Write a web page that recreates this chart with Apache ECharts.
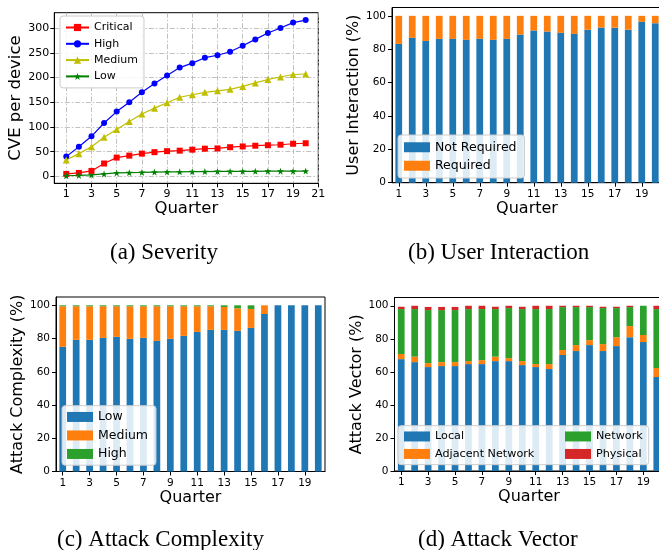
<!DOCTYPE html>
<html>
<head>
<meta charset="utf-8">
<script src="https://cdn.jsdelivr.net/npm/echarts@6/dist/echarts.min.js"></script>
<style>
  html, body { margin: 0; padding: 0; background: #fff; }
  #chart { width: 659px; height: 550px; }
</style>
</head>
<body>
<div id="chart"></div>
<script>
// ---- data ----
const quarters = [1,2,3,4,5,6,7,8,9,10,11,12,13,14,15,16,17,18,19,20];
const quarterTicks = [1,3,5,7,9,11,13,15,17,19,21];
const severityTicks = [0,50,100,150,200,250,300];
const percentTicks = [0,20,40,60,80,100];

// (a) CVEs per device by severity
const sevCritical = [5,7,11,26,38,42,46,49,51,52,54,56,56.5,59,60.5,62,63,64,66,67];
const sevHigh     = [40,60,81,108,131,150,170,188,204,220,229,240,245,252,264,277,290,300,311,316];
const sevMedium   = [33,46,60,79,95,111,126,138,149,160,165,170,173,176,182,189,196,201,206,207];
const sevLow      = [1.3,2,3,5,7,7.5,8,8.7,9,9.3,9.5,9.7,10,10,10.2,10.3,10.5,10.5,10.6,10.7];

// (b) user interaction share (%)
const uiNotRequired = [83.2,86.8,85.0,86.2,86.2,85.6,86.2,85.6,86.2,88.8,91.2,90.6,89.8,89.2,91.7,93.0,92.9,91.7,96.4,95.6];
const uiRequired = uiNotRequired.map(v => +(100 - v).toFixed(1));

// (c) attack complexity share (%)
const acLow    = [75.0,79.2,79.2,80.4,81.0,79.8,80.4,78.6,79.8,81.6,84.0,85.2,85.2,84.6,86.4,94.8,100,100,100,100];
const acMedium = [24.4,20.2,20.2,19.0,18.4,19.6,19.0,20.8,19.6,17.8,15.4,14.2,13.8,13.6,11.4,5.2,0,0,0,0];
const acHigh   = [0.6,0.6,0.6,0.6,0.6,0.6,0.6,0.6,0.6,0.6,0.6,0.6,1.0,1.8,2.2,0,0,0,0,0];

// (d) attack vector share (%)
const avLocal    = [67.7,65.9,62.9,63.5,63.5,64.7,64.7,66.5,66.5,64.1,62.9,61.7,70.2,72.6,76.2,72.6,75.6,81.0,78.0,56.9];
const avAdjacent = [3.1,3.3,2.4,2.4,2.4,1.8,2.4,2.7,1.8,2.4,1.8,3.0,3.0,3.6,3.0,4.2,5.4,6.7,4.3,5.4];
const avNetwork  = [27.2,28.8,32.1,31.5,31.5,31.5,30.9,28.8,30.3,31.5,33.3,33.3,26.0,23.0,20.0,21.8,17.6,11.5,17.7,35.7];
const avPhysical = [1.4,2.0,1.9,1.9,1.9,2.0,2.0,1.4,1.4,1.4,2.0,2.0,0.8,0.8,0.8,0.8,0.8,0.8,0,2.0];

// ---- styling helpers ----
const FONT = 'DejaVu Sans';
const C_BLUE = '#1f77b4', C_ORANGE = '#ff7f0e', C_GREEN = '#2ca02c', C_RED = '#d62728';
const STAR = 'path://M0,-10L2.35,-3.24L9.51,-3.09L3.8,1.24L5.88,8.09L0,4L-5.88,8.09L-3.8,1.24L-9.51,-3.09L-2.35,-3.24Z';
const catLabels = quarters.map(String);

function gridBox(left, top, width, height) {
  return { left, top, width, height, show: true, borderColor: '#000', borderWidth: 1,
           backgroundColor: 'transparent', containLabel: false, outerBoundsMode: 'none' };
}
const axisLine = { show: true, onZero: false, lineStyle: { color: '#000', width: 1 } };
const tick = { show: true, inside: false, length: 4, lineStyle: { color: '#000', width: 1 } };

function barXAxis(gridIndex, fs) {
  return {
    type: 'category', gridIndex, data: catLabels, boundaryGap: true,
    axisLine, axisTick: Object.assign({}, tick, { alignWithLabel: true, interval: 1 }),
    axisLabel: { interval: 1, color: '#000', fontFamily: FONT, fontSize: fs, margin: 6 },
    name: 'Quarter', nameLocation: 'middle', nameGap: 17,
    nameTextStyle: { color: '#000', fontFamily: FONT, fontSize: 16 },
    splitLine: { show: false }
  };
}
function barYAxis(gridIndex, title, fs) {
  return {
    type: 'value', gridIndex, min: 0, max: 105,
    axisLine, axisTick: Object.assign({}, tick, { customValues: percentTicks }),
    axisLabel: { customValues: percentTicks, color: '#000', fontFamily: FONT, fontSize: fs, margin: 6 },
    splitLine: { show: false },
    name: title, nameLocation: 'middle', nameGap: 27, nameRotate: 90,
    nameTextStyle: { color: '#000', fontFamily: FONT, fontSize: 16 }
  };
}
function barSeries(name, data, color, gx, stack) {
  return { type: 'bar', name, data, stack, xAxisIndex: gx, yAxisIndex: gx, barWidth: '50%',
           itemStyle: { color }, emphasis: { disabled: true }, animation: false };
}
function lineSeries(name, values, color, symbol, size) {
  return {
    type: 'line', name, xAxisIndex: 0, yAxisIndex: 0,
    data: quarters.map((q, i) => [q, values[i]]),
    symbol, symbolSize: size, showSymbol: true,
    lineStyle: { color, width: 1.2 }, itemStyle: { color, borderWidth: 0 },
    emphasis: { disabled: true }, animation: false
  };
}
const legendBox = {
  backgroundColor: 'rgba(255,255,255,0.85)', borderColor: '#cccccc', borderWidth: 1,
  borderRadius: 3, selectedMode: false
};
const stripTag = n => n.slice(2);

const option = {
  animation: false,
  grid: [
    gridBox(54.3, 12.7, 264, 170.6),
    gridBox(392, 7.5, 270, 175.2),
    gridBox(56, 297, 269, 174.5),
    gridBox(394.5, 297.5, 269, 173.5)
  ],
  xAxis: [
    {
      type: 'value', gridIndex: 0, min: 0.05, max: 21,
      axisLine, axisTick: Object.assign({}, tick, { customValues: quarterTicks }),
      axisLabel: { customValues: quarterTicks, color: '#000', fontFamily: FONT, fontSize: 11, margin: 5 },
      splitLine: { show: true, lineStyle: { color: '#b0b0b0', width: 0.8, type: [5, 2, 1.5, 2] } },
      name: 'Quarter', nameLocation: 'middle', nameGap: 16,
      nameTextStyle: { color: '#000', fontFamily: FONT, fontSize: 16.5 }
    },
    barXAxis(1, 10.5), barXAxis(2, 10.5), barXAxis(3, 10.5)
  ],
  yAxis: [
    {
      type: 'value', gridIndex: 0, min: -14, max: 331,
      axisLine, axisTick: Object.assign({}, tick, { customValues: severityTicks }),
      axisLabel: { customValues: severityTicks, color: '#000', fontFamily: FONT, fontSize: 11, margin: 5 },
      splitLine: { show: true, lineStyle: { color: '#b0b0b0', width: 0.8, type: [5, 2, 1.5, 2] } },
      name: 'CVE per device', nameLocation: 'middle', nameGap: 26, nameRotate: 90,
      nameTextStyle: { color: '#000', fontFamily: FONT, fontSize: 16.5 }
    },
    barYAxis(1, 'User Interaction (%)', 10.5),
    barYAxis(2, 'Attack Complexity (%)', 10.5),
    barYAxis(3, 'Attack Vector (%)', 10.5)
  ],
  legend: [
    Object.assign({}, legendBox, {
      data: ['a:Critical', 'a:High', 'a:Medium', 'a:Low'], formatter: stripTag,
      orient: 'vertical', left: 60, top: 16, itemWidth: 23, itemHeight: 9, itemGap: 3.3,
      padding: [5, 6, 5, 5],
      textStyle: { color: '#000', fontFamily: FONT, fontSize: 11, lineHeight: 13 }
    }),
    Object.assign({}, legendBox, {
      data: ['b:Not Required', 'b:Required'], formatter: stripTag, icon: 'rect',
      orient: 'vertical', left: 398, top: 135, itemWidth: 26, itemHeight: 10, itemGap: 4,
      padding: [5, 8, 5, 6],
      textStyle: { color: '#000', fontFamily: FONT, fontSize: 12.5, lineHeight: 14.5 }
    }),
    Object.assign({}, legendBox, {
      data: ['c:Low', 'c:Medium', 'c:High'], formatter: stripTag, icon: 'rect',
      orient: 'vertical', left: 62, top: 405.7, itemWidth: 26, itemHeight: 10, itemGap: 4,
      padding: [4, 8, 4, 5],
      textStyle: { color: '#000', fontFamily: FONT, fontSize: 12.5, lineHeight: 14.5 }
    }),
    Object.assign({}, legendBox, {
      data: [
        { name: 'd:Local', textStyle: { width: 126 } },
        { name: 'd:Network' },
        { name: 'd:Adjacent Network', textStyle: { width: 126 } },
        { name: 'd:Physical' }
      ],
      formatter: stripTag, icon: 'rect',
      orient: 'horizontal', left: 398, top: 425.7, width: 246, itemWidth: 26, itemHeight: 10, itemGap: 4,
      padding: [4, 6, 4, 6],
      textStyle: { color: '#000', fontFamily: FONT, fontSize: 11.2, lineHeight: 13.5 }
    })
  ],
  series: [
    lineSeries('a:Critical', sevCritical, '#ff0000', 'rect', 6),
    lineSeries('a:High', sevHigh, '#0000ff', 'circle', 6),
    lineSeries('a:Medium', sevMedium, '#bfbf00', 'triangle', 7),
    lineSeries('a:Low', sevLow, '#008000', STAR, 7),

    barSeries('b:Not Required', uiNotRequired, C_BLUE, 1, 'ui'),
    barSeries('b:Required', uiRequired, C_ORANGE, 1, 'ui'),

    barSeries('c:Low', acLow, C_BLUE, 2, 'ac'),
    barSeries('c:Medium', acMedium, C_ORANGE, 2, 'ac'),
    barSeries('c:High', acHigh, C_GREEN, 2, 'ac'),

    barSeries('d:Local', avLocal, C_BLUE, 3, 'av'),
    barSeries('d:Adjacent Network', avAdjacent, C_ORANGE, 3, 'av'),
    barSeries('d:Network', avNetwork, C_GREEN, 3, 'av'),
    barSeries('d:Physical', avPhysical, C_RED, 3, 'av')
  ],
  graphic: [
    { type: 'text', left: 110, top: 241, style: { text: '(a) Severity', font: '23px "Liberation Serif"', fill: '#000' } },
    { type: 'text', left: 408, top: 241, style: { text: '(b) User Interaction', font: '23px "Liberation Serif"', fill: '#000' } },
    { type: 'text', left: 57, top: 528, style: { text: '(c) Attack Complexity', font: '23px "Liberation Serif"', fill: '#000' } },
    { type: 'text', left: 418, top: 528, style: { text: '(d) Attack Vector', font: '23px "Liberation Serif"', fill: '#000' } }
  ]
};

const chart = echarts.init(document.getElementById('chart'), null, { renderer: 'canvas' });
chart.setOption(option);
</script>
</body>
</html>
